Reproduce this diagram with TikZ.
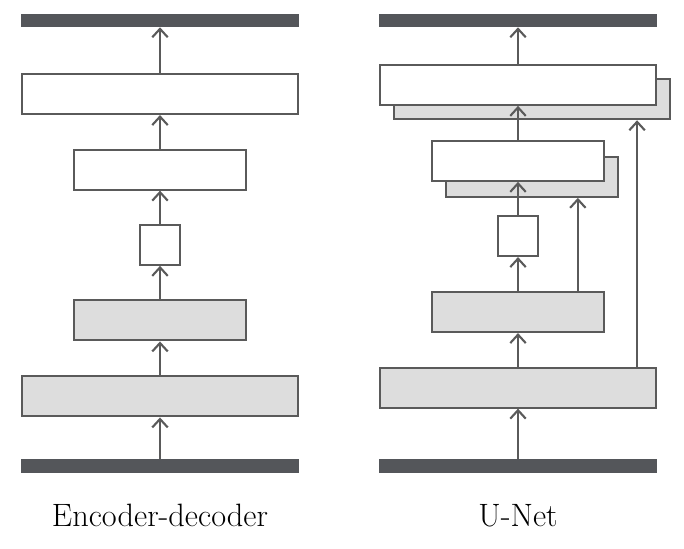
\documentclass[tikz,border=0pt]{standalone}
\usepackage{fontspec}
\usetikzlibrary{positioning,arrows.meta}
\definecolor{barcol}{HTML}{54565A}
\definecolor{linecol}{HTML}{5A5A5A}
\definecolor{fillcol}{HTML}{DDDDDD}

\tikzset{
    layer/.style={draw=linecol, line width=1.5pt, inner sep=0pt, minimum height=1cm},
    whitebox/.style={layer, fill=white},
    graybox/.style={layer, fill=fillcol},
    bar/.style={fill=barcol, inner sep=0pt, minimum height=0.33cm},
    arr/.style={draw=linecol, line width=1.5pt, -{Straight Barb[length=6pt,width=11pt,line width=1.5pt]}}
}

\begin{document}
\begin{tikzpicture}
    \useasboundingbox (0,0) rectangle (17.1,-13.7);

    % Encoder-decoder
    \node (topL) [bar, minimum width=6.93cm] at (4.0,-0.51) {};
    \node (decL1) [whitebox, minimum width=6.9cm] at (4.0,-2.35) {};
    \node (decL2) [whitebox, minimum width=4.3cm] at (4.0,-4.24) {};
    \node (midL) [whitebox, minimum width=1cm] at (4.0,-6.12) {};
    \node (encL2) [graybox, minimum width=4.3cm] at (4.0,-8.01) {};
    \node (encL1) [graybox, minimum width=6.9cm] at (4.0,-9.91) {};
    \node (botL) [bar, minimum width=6.95cm] at (4.0,-11.65) {};

    \draw [arr] (botL) -- (encL1);
    \draw [arr] (encL1) -- (encL2);
    \draw [arr] (encL2) -- (midL);
    \draw [arr] (midL) -- (decL2);
    \draw [arr] (decL2) -- (decL1);
    \draw [arr] (decL1) -- (topL);

    \node (labL) [anchor=base, font=\fontsize{23}{27}\selectfont] at (4.0,-13.17) {Encoder-decoder};

    % U-Net
    \node (topR) [bar, minimum width=6.95cm] at (12.95,-0.51) {};
    \node (shdR1) [graybox, minimum width=6.9cm] at (13.3,-2.48) {};
    \node (decR1) [whitebox, minimum width=6.9cm] at (12.95,-2.12) {};
    \node (shdR2) [graybox, minimum width=4.3cm] at (13.3,-4.42) {};
    \node (decR2) [whitebox, minimum width=4.3cm] at (12.95,-4.02) {};
    \node (midR) [whitebox, minimum width=1cm] at (12.95,-5.9) {};
    \node (encR2) [graybox, minimum width=4.3cm] at (12.95,-7.8) {};
    \node (encR1) [graybox, minimum width=6.9cm] at (12.95,-9.69) {};
    \node (botR) [bar, minimum width=6.95cm] at (12.95,-11.65) {};

    \draw [arr] (botR) -- (encR1);
    \draw [arr] (encR1) -- (encR2);
    \draw [arr] (encR2) -- (midR);
    \draw [arr] (midR) -- (decR2);
    \draw [arr] (decR2) -- (decR1);
    \draw [arr] (decR1) -- (topR);

    % skip connections
    \draw [arr] ([xshift=-0.5cm]encR1.north east) -- ([xshift=-0.5cm]encR1.north east |- shdR1.south);
    \draw [arr] ([xshift=-0.68cm]encR2.north east) -- ([xshift=-0.68cm]encR2.north east |- shdR2.south);

    \node (labR) [anchor=base, font=\fontsize{23}{27}\selectfont] at (12.95,-13.17) {U-Net};
\end{tikzpicture}
\end{document}
